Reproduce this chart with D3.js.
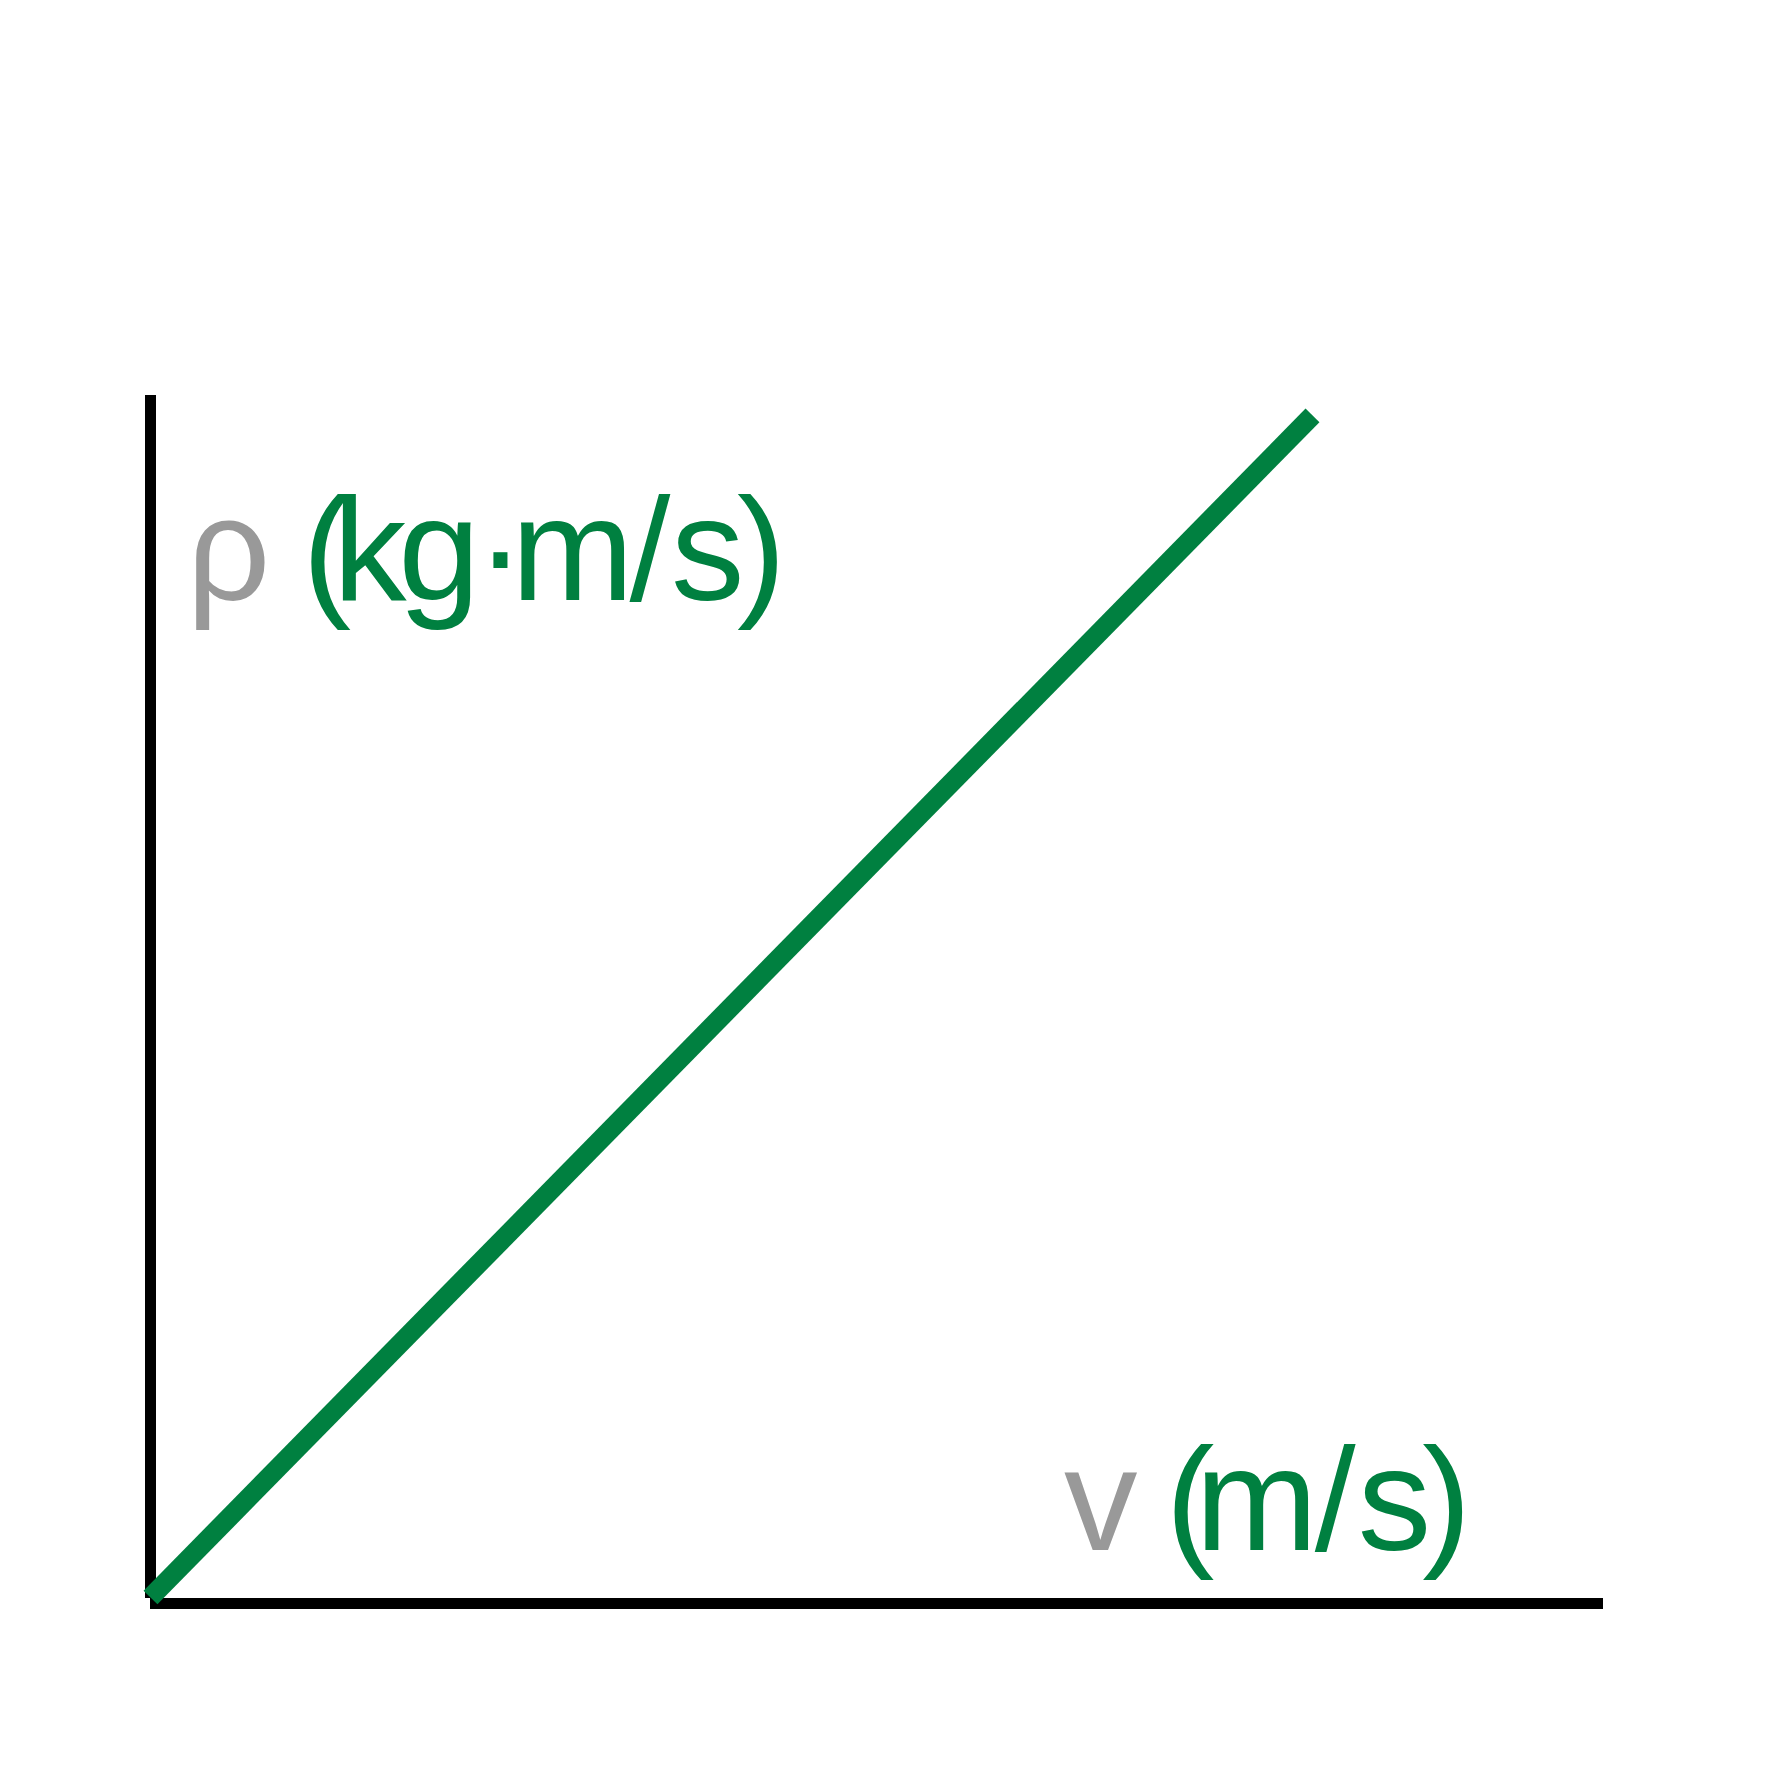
<!DOCTYPE html>
<html>
<head>
<meta charset="utf-8">
<script src="https://cdn.jsdelivr.net/npm/d3@7"></script>
<style>
  html, body { margin: 0; padding: 0; background: #fff; }
  svg { display: block; }
</style>
</head>
<body>
<script>
// ---- data ----
const velocity = [0, 8];          // v (m/s)
const momentum = [0, 9.83];       // p (kg·m/s)
const xDomain = [0, 10];
const yDomain = [0, 10];
const yLabelParts = [{ t: "ρ ", c: "#999999" }, { t: "(kg·m/s)", c: "#008040" }];
const xLabelParts = [{ t: "v ", c: "#999999" }, { t: "(m/s)", c: "#008040" }];

const W = 1782, H = 1782;
const svg = d3.select("body").append("svg").attr("width", W).attr("height", H);

const x = d3.scaleLinear().domain(xDomain).range([150.5, 1603]);
const y = d3.scaleLinear().domain(yDomain).range([1597.5, 395]);

// axes
svg.append("line")
  .attr("x1", x(0)).attr("x2", x(0))
  .attr("y1", y(yDomain[1])).attr("y2", y(0) + 0.5)
  .attr("stroke", "#000").attr("stroke-width", 11);
svg.append("line")
  .attr("x1", x(0) - 0.5).attr("x2", x(xDomain[1]))
  .attr("y1", y(0) + 6).attr("y2", y(0) + 6)
  .attr("stroke", "#000").attr("stroke-width", 11);

// data line
const pts = velocity.map((v, i) => [v, momentum[i]]);
svg.append("path")
  .datum(pts)
  .attr("d", d3.line().x(d => x(d[0])).y(d => y(d[1])))
  .attr("fill", "none")
  .attr("stroke", "#008040")
  .attr("stroke-width", 19.5)
  .attr("stroke-linecap", "butt");

// labels (per-glyph placement, tight spacing as in the reference)
function label(parts, xs, baseline) {
  const t = svg.append("text")
    .attr("y", baseline)
    .attr("font-family", "'Liberation Sans', Arial, Helvetica, sans-serif")
    .attr("font-size", 147);
  let k = 0;
  parts.forEach(p => {
    const chars = Array.from(p.t);
    const pos = xs.slice(k, k + chars.length);
    k += chars.length;
    t.append("tspan").attr("x", pos.join(" ")).attr("fill", p.c).text(p.t);
  });
}
label(yLabelParts, [186.8, 260, 302.2, 333, 398.2, 476, 511.2, 629.5, 671, 737], 600);
label(xLabelParts, [1064, 1120, 1165.5, 1195.2, 1314.8, 1357.7, 1422.3], 1550);
</script>
</body>
</html>
